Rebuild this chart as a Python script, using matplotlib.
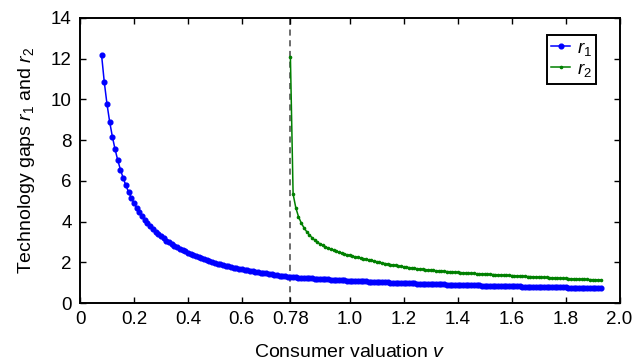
import numpy as np
import matplotlib
matplotlib.use('Agg')
import matplotlib.pyplot as plt

plt.rcParams['font.family'] = ['Liberation Sans', 'DejaVu Sans']
plt.rcParams['mathtext.fontset'] = 'custom'
plt.rcParams['mathtext.it'] = 'Liberation Sans:italic'
plt.rcParams['mathtext.rm'] = 'Liberation Sans'

# consumer valuation grid (step 0.01)
v1 = np.round(np.arange(8, 194) / 100, 2)     # 0.08 .. 1.93
v2 = np.round(np.arange(78, 194) / 100, 2)    # 0.78 .. 1.93

# r1
r1 = [12.18, 10.85, 9.78, 8.90, 8.17, 7.55, 7.01, 6.55, 6.14, 5.78,
      5.45, 5.17, 4.91, 4.67, 4.46, 4.27, 4.09, 3.93, 3.78, 3.64,
      3.51, 3.39, 3.28, 3.17, 3.07, 2.98, 2.90, 2.81, 2.74, 2.66,
      2.60, 2.53, 2.47, 2.41, 2.35, 2.30, 2.25, 2.20, 2.15, 2.11,
      2.06, 2.02, 1.98, 1.94, 1.91, 1.87, 1.84, 1.81, 1.77, 1.74,
      1.71, 1.69, 1.66, 1.63, 1.61, 1.58, 1.56, 1.53, 1.51, 1.49,
      1.47, 1.45, 1.43, 1.41, 1.39, 1.37, 1.35, 1.33, 1.32, 1.30,
      1.28,
      1.270, 1.260, 1.251, 1.241, 1.232, 1.223, 1.214, 1.205, 1.196, 1.188,
      1.180, 1.171, 1.163, 1.156, 1.148, 1.140, 1.133, 1.125, 1.118, 1.111,
      1.104, 1.097, 1.091, 1.084, 1.077, 1.071, 1.065, 1.058, 1.052, 1.046,
      1.040, 1.034, 1.029, 1.023, 1.017, 1.012, 1.006, 1.001, 0.996, 0.990,
      0.985, 0.980, 0.975, 0.970, 0.965, 0.961, 0.956, 0.951, 0.946, 0.942,
      0.937, 0.933, 0.928, 0.924, 0.920, 0.915, 0.911, 0.907, 0.903, 0.899,
      0.895, 0.891, 0.887, 0.883, 0.879, 0.875, 0.872, 0.868, 0.864, 0.861,
      0.857, 0.853, 0.850, 0.846, 0.843, 0.840, 0.836, 0.833, 0.830, 0.826,
      0.823, 0.820, 0.817, 0.814, 0.811, 0.807, 0.804, 0.801, 0.799, 0.796,
      0.793, 0.790, 0.787, 0.784, 0.781, 0.778, 0.776, 0.773, 0.770, 0.768,
      0.765, 0.762, 0.760, 0.757, 0.755, 0.752, 0.750, 0.747, 0.745, 0.742,
      0.740, 0.737, 0.735, 0.732, 0.730]

# r2
r2 = [12.10, 5.35, 4.68, 4.24, 3.94, 3.70, 3.51, 3.35, 3.21, 3.09,
      2.99, 2.90, 2.83, 2.76, 2.70, 2.64, 2.59, 2.54, 2.50, 2.45,
      2.41, 2.37, 2.34, 2.30, 2.27, 2.24, 2.21, 2.18, 2.15, 2.12,
      2.09, 2.06, 2.03, 2.00, 1.97, 1.94, 1.92, 1.89, 1.87, 1.85,
      1.82, 1.80, 1.78, 1.76, 1.74, 1.72, 1.70, 1.685, 1.67, 1.655,
      1.64, 1.625, 1.61, 1.60, 1.585, 1.575, 1.565, 1.555, 1.545, 1.535,
      1.525, 1.515, 1.505, 1.495, 1.485, 1.475, 1.465, 1.455, 1.45, 1.44,
      1.435, 1.425, 1.42, 1.41, 1.405, 1.40, 1.39, 1.385, 1.38, 1.37,
      1.36, 1.355, 1.35, 1.34, 1.33, 1.325, 1.32, 1.31, 1.30, 1.295,
      1.29, 1.28, 1.275, 1.27, 1.26, 1.255, 1.245, 1.24, 1.23, 1.225,
      1.22, 1.21, 1.205, 1.20, 1.19, 1.185, 1.18, 1.175, 1.17, 1.16,
      1.155, 1.15, 1.145, 1.14, 1.135, 1.13]

v_split = 0.78
xticks = [0, 0.2, 0.4, 0.6, 0.78, 1.0, 1.2, 1.4, 1.6, 1.8, 2.0]
xticklabels = ['0', '0.2', '0.4', '0.6', '0.78', '1.0', '1.2', '1.4', '1.6', '1.8', '2.0']
yticks = [0, 2, 4, 6, 8, 10, 12, 14]

fig = plt.figure(figsize=(6.33, 3.62), dpi=100)
ax = fig.add_axes([80 / 633, 1 - 303 / 362, 539.5 / 633, 285 / 362])

ax.axvline(v_split, color='#444444', linestyle=(0, (4, 3)), linewidth=1.1, zorder=1)
ax.plot(v1, r1, color='#0000ff', marker='o', markersize=3.4, linewidth=1.1,
        label='$r_1$', zorder=3)
ax.plot(v2, r2, color='#008000', marker='o', markersize=1.6, linewidth=1.1,
        label='$r_2$', zorder=2)

ax.set_xlim(0, 2.0)
ax.set_ylim(0, 14)
ax.set_xticks(xticks)
ax.set_xticklabels(xticklabels)
ax.set_yticks(yticks)
ax.tick_params(direction='in', top=True, right=True, length=4, width=1,
               labelsize=13.5, pad=6)
for s in ax.spines.values():
    s.set_linewidth(1.4)

ax.set_xlabel('Consumer valuation $v$', fontsize=14, labelpad=11)
ax.set_ylabel('Technology gaps $r_1$ and $r_2$', fontsize=14, labelpad=10)

leg = ax.legend(loc='upper right', fontsize=13.5, fancybox=False, framealpha=1,
                edgecolor='black', handlelength=1.0, handletextpad=0.35,
                borderpad=0.25, labelspacing=0.15, borderaxespad=0,
                bbox_to_anchor=(0.957, 0.94))
leg.get_frame().set_linewidth(1.4)

fig.savefig('out.png', dpi=100)
